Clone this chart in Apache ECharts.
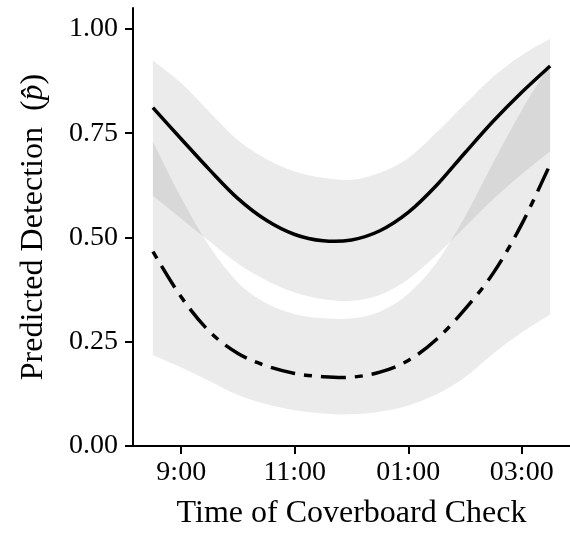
<!DOCTYPE html>
<html>
<head>
<meta charset="utf-8">
<script src="https://cdn.jsdelivr.net/npm/echarts@6/dist/echarts.min.js"></script>
<style>
  html, body { margin: 0; padding: 0; background: #fff; }
  #chart { width: 570px; height: 535px; }
</style>
</head>
<body>
<div id="chart"></div>
<script>
// ── Data (hours on a 24h clock) ─────────────────────────────────────────────
const HOURS = [8.5, 9, 9.5, 10, 10.5, 11, 11.5, 12, 12.5, 13, 13.5, 14, 14.5, 15, 15.5];

// solid curve + its confidence band
const SOLID_FIT = [0.811, 0.736, 0.662, 0.593, 0.541, 0.507, 0.492, 0.494, 0.516, 0.560, 0.625, 0.703, 0.779, 0.848, 0.911];
const SOLID_LO  = [0.600, 0.545, 0.490, 0.437, 0.397, 0.368, 0.352, 0.348, 0.362, 0.400, 0.458, 0.525, 0.592, 0.652, 0.706];
const SOLID_HI  = [0.924, 0.870, 0.800, 0.733, 0.688, 0.658, 0.643, 0.638, 0.655, 0.690, 0.752, 0.820, 0.886, 0.937, 0.976];

// dash-dot curve + its confidence band
const DASH_FIT = [0.466, 0.357, 0.274, 0.222, 0.192, 0.174, 0.166, 0.165, 0.177, 0.205, 0.256, 0.328, 0.415, 0.532, 0.675];
const DASH_LO  = [0.218, 0.188, 0.155, 0.122, 0.100, 0.086, 0.078, 0.076, 0.082, 0.097, 0.124, 0.165, 0.222, 0.272, 0.315];
const DASH_HI  = [0.730, 0.595, 0.478, 0.392, 0.342, 0.316, 0.306, 0.306, 0.322, 0.365, 0.440, 0.550, 0.680, 0.805, 0.915];

const X_TICKS = [9, 11, 13, 15];
const X_TICK_LABELS = ['9:00', '11:00', '01:00', '03:00'];
const Y_TICKS = [0, 0.25, 0.5, 0.75, 1];

const FONT = '"Liberation Serif", "DejaVu Serif", serif';
const BAND_FILL = 'rgba(0,0,0,0.08)';

// smooth path through screen points (catmull-rom as cubic beziers)
function curveTo(pts) {
  let d = '';
  for (let i = 0; i < pts.length - 1; i++) {
    const p0 = pts[Math.max(i - 1, 0)], p1 = pts[i], p2 = pts[i + 1], p3 = pts[Math.min(i + 2, pts.length - 1)];
    const c1 = [p1[0] + (p2[0] - p0[0]) / 6, p1[1] + (p2[1] - p0[1]) / 6];
    const c2 = [p2[0] - (p3[0] - p1[0]) / 6, p2[1] - (p3[1] - p1[1]) / 6];
    d += ` C${c1[0]},${c1[1]} ${c2[0]},${c2[1]} ${p2[0]},${p2[1]}`;
  }
  return d;
}

// confidence ribbon as one filled shape between lo and hi
function band(name, lo, hi) {
  return {
    name: name, type: 'custom', silent: true, z: 1, clip: true,
    data: HOURS.map((h, i) => [h, lo[i], hi[i]]),
    encode: { x: 0, y: [1, 2] },
    renderItem(params, api) {
      if (params.dataIndex !== 0) return null;
      const top = HOURS.map((h, i) => api.coord([h, hi[i]]));
      const bot = HOURS.map((h, i) => api.coord([h, lo[i]])).reverse();
      const d = `M${top[0][0]},${top[0][1]}` + curveTo(top) +
                ` L${bot[0][0]},${bot[0][1]}` + curveTo(bot) + ' Z';
      return { type: 'path', shape: { pathData: d }, style: { fill: BAND_FILL } };
    }
  };
}

// fitted curve drawn as a smooth stroke
function curve(name, fit, dash) {
  return {
    name: name, type: 'custom', silent: true, z: 3, clip: true,
    data: HOURS.map((h, i) => [h, fit[i]]),
    encode: { x: 0, y: 1 },
    renderItem(params, api) {
      if (params.dataIndex !== 0) return null;
      const pts = HOURS.map((h, i) => api.coord([h, fit[i]]));
      const d = `M${pts[0][0]},${pts[0][1]}` + curveTo(pts);
      return {
        type: 'path', shape: { pathData: d },
        style: { fill: 'none', stroke: '#000', lineWidth: 3.5, lineDash: dash, lineCap: 'butt' }
      };
    }
  };
}

const chart = echarts.init(document.getElementById('chart'));
chart.setOption({
  animation: false,
  backgroundColor: '#fff',
  grid: { left: 133, right: 0, top: 8, bottom: 87, containLabel: false },
  xAxis: {
    type: 'value', min: 8.15, max: 15.85,
    name: 'Time of Coverboard Check',
    nameLocation: 'middle', nameGap: 52,
    nameTextStyle: { fontFamily: FONT, fontSize: 32, color: '#000' },
    axisLine: { show: true, onZero: false, lineStyle: { color: '#000', width: 2 } },
    axisTick: { show: true, length: 8, customValues: X_TICKS, lineStyle: { color: '#000', width: 2 } },
    axisLabel: {
      customValues: X_TICKS, margin: 13,
      fontFamily: FONT, fontSize: 28, color: '#000',
      formatter: v => X_TICK_LABELS[X_TICKS.indexOf(v)]
    },
    splitLine: { show: false }
  },
  yAxis: {
    type: 'value', min: 0, max: 1.05,
    name: '{n|Predicted Detection  (}{i|p\u0302}{n|)}',
    nameLocation: 'middle', nameGap: 83,
    nameTextStyle: {
      rich: {
        n: { fontFamily: FONT, fontSize: 32, color: '#000' },
        i: { fontFamily: FONT, fontSize: 32, color: '#000', fontStyle: 'italic' }
      }
    },
    axisLine: { show: true, lineStyle: { color: '#000', width: 2 } },
    axisTick: { show: true, length: 8, customValues: Y_TICKS, lineStyle: { color: '#000', width: 2 } },
    axisLabel: {
      customValues: Y_TICKS, margin: 15,
      fontFamily: FONT, fontSize: 28, color: '#000',
      formatter: v => v.toFixed(2)
    },
    splitLine: { show: false }
  },
  series: [
    band('solidBand', SOLID_LO, SOLID_HI),
    band('dashBand', DASH_LO, DASH_HI),
    curve('solid', SOLID_FIT, null),
    curve('dash', DASH_FIT, [8, 9, 25, 9])
  ]
});
</script>
</body>
</html>
